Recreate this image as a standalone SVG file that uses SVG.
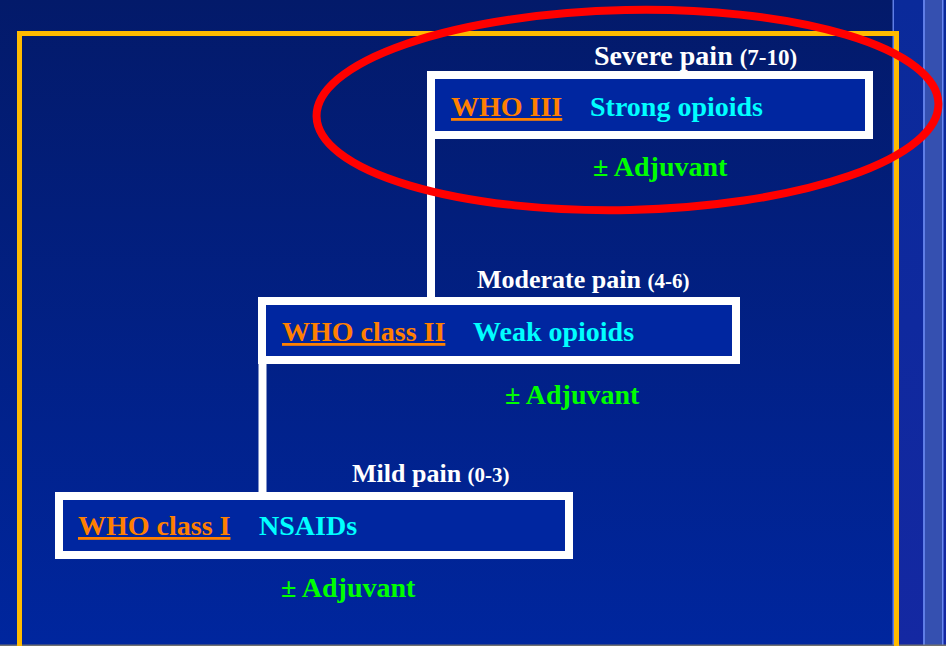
<svg xmlns="http://www.w3.org/2000/svg" width="946" height="646" viewBox="0 0 946 646">
  <defs>
    <linearGradient id="bg" x1="0" y1="0" x2="0" y2="1">
      <stop offset="0" stop-color="#031a6a"/>
      <stop offset="1" stop-color="#00269e"/>
    </linearGradient>
    <linearGradient id="band" x1="0" y1="0" x2="0" y2="1">
      <stop offset="0" stop-color="#0a2a9a"/>
      <stop offset="1" stop-color="#1428a2"/>
    </linearGradient>
    <style>
      .box{fill:#0026a0;stroke:#ffffff;stroke-width:8}
      .conn{stroke:#ffffff;stroke-width:8;fill:none}
      text{font-family:"Liberation Serif","Times New Roman",serif;font-weight:bold}
      .lvl{fill:#ffffff;font-size:26px}
      .rng{font-size:21px}
      .big{font-size:28px}
      .big .rng{font-size:23px}
      .who{fill:#ff8000;font-size:28px;text-decoration:underline}
      .drug{fill:#00ffff;font-size:28px}
      .adj{fill:#00ff00;font-size:28px}
    </style>
  </defs>

  <!-- background -->
  <rect x="0" y="0" width="946" height="646" fill="url(#bg)"/>
  <rect x="893" y="0" width="53" height="646" fill="url(#band)"/>
  <rect x="925" y="0" width="17" height="646" fill="#3550b0"/>
  <rect x="923" y="0" width="2" height="646" fill="#5f7ee6"/>
  <rect x="942" y="0" width="1.5" height="646" fill="#6a88f0"/>
  <rect x="892.5" y="0" width="1.5" height="646" fill="#5f7ee6"/>
  <rect x="0" y="644.5" width="946" height="1.5" fill="#707070"/>

  <!-- frame -->
  <path d="M19.5 650 V33.5 H896.5 V650" fill="none" stroke="#ffbb00" stroke-width="5"/>

  <!-- connectors -->
  <g id="connectors">
    <line class="conn" x1="431" y1="135" x2="431" y2="301"/>
    <line class="conn" x1="262.5" y1="360" x2="262.5" y2="496"/>
  </g>

  <g id="step3">
    <text class="lvl big" x="594" y="65">Severe pain <tspan class="rng">(7-10)</tspan></text>
    <rect class="box" x="431" y="75" width="438" height="60"/>
    <text class="who" x="451" y="116">WHO III</text>
    <text class="drug" x="590" y="116">Strong opioids</text>
    <text class="adj" x="593" y="176">± Adjuvant</text>
  </g>

  <g id="step2">
    <text class="lvl" x="477" y="288">Moderate pain <tspan class="rng">(4-6)</tspan></text>
    <rect class="box" x="262" y="301" width="474" height="59"/>
    <text class="who" x="282" y="341">WHO class II</text>
    <text class="drug" x="473" y="341">Weak opioids</text>
    <text class="adj" x="505" y="404">± Adjuvant</text>
  </g>

  <g id="step1">
    <text class="lvl" x="352" y="482">Mild pain <tspan class="rng">(0-3)</tspan></text>
    <rect class="box" x="59" y="496" width="510" height="59"/>
    <text class="who" x="78" y="535">WHO class I</text>
    <text class="drug" x="259" y="535">NSAIDs</text>
    <text class="adj" x="281" y="597">± Adjuvant</text>
  </g>

  <!-- highlight -->
  <g id="highlight">
    <ellipse cx="627.5" cy="110" rx="311" ry="100" transform="rotate(-1.2 627.5 110)" fill="none" stroke="#ff0000" stroke-width="8"/>
  </g>
</svg>
